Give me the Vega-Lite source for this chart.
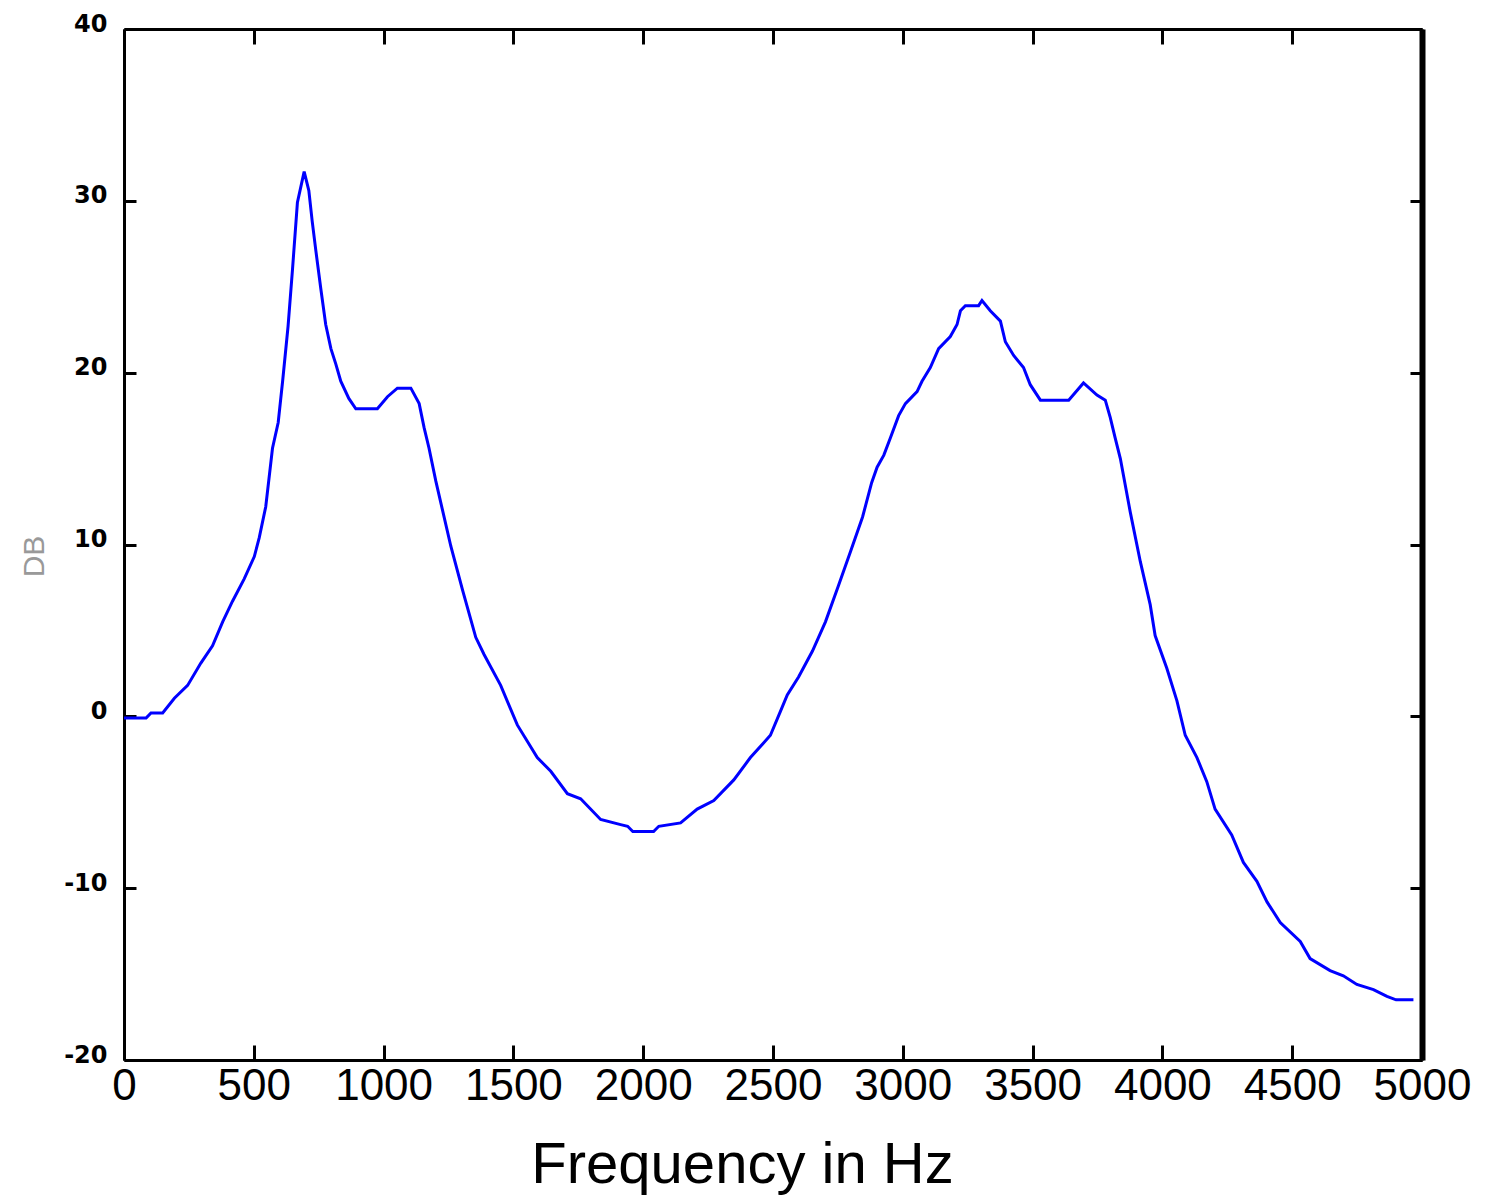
{
  "$schema": "https://vega.github.io/schema/vega-lite/v6.json",
  "autosize": {"type": "none"},
  "padding": {"left": 124, "top": 29, "right": 64, "bottom": 143},
  "width": 1298,
  "height": 1031,
  "background": "white",
  "config": {"view": {"stroke": null}},
  "data": {"values": [
    {"f": 0, "db": -0.1}, {"f": 85, "db": -0.1}, {"f": 104, "db": 0.2}, {"f": 149, "db": 0.2},
    {"f": 194, "db": 1.05}, {"f": 245, "db": 1.8}, {"f": 296, "db": 3.1}, {"f": 341, "db": 4.1},
    {"f": 380, "db": 5.5}, {"f": 418, "db": 6.7}, {"f": 463, "db": 8.0}, {"f": 502, "db": 9.3},
    {"f": 521, "db": 10.4}, {"f": 546, "db": 12.2}, {"f": 572, "db": 15.6}, {"f": 594, "db": 17.1},
    {"f": 611, "db": 19.5}, {"f": 632, "db": 22.7}, {"f": 649, "db": 26.0}, {"f": 668, "db": 29.9},
    {"f": 694, "db": 31.7}, {"f": 712, "db": 30.6}, {"f": 725, "db": 28.8},
    {"f": 739, "db": 27.1}, {"f": 758, "db": 24.9}, {"f": 777, "db": 22.8}, {"f": 797, "db": 21.4},
    {"f": 816, "db": 20.5}, {"f": 835, "db": 19.5}, {"f": 866, "db": 18.5}, {"f": 893, "db": 17.9},
    {"f": 976, "db": 17.9}, {"f": 1015, "db": 18.6}, {"f": 1053, "db": 19.1}, {"f": 1105, "db": 19.1},
    {"f": 1137, "db": 18.2}, {"f": 1156, "db": 16.8}, {"f": 1175, "db": 15.6}, {"f": 1201, "db": 13.7},
    {"f": 1259, "db": 9.9}, {"f": 1305, "db": 7.3}, {"f": 1355, "db": 4.6}, {"f": 1387, "db": 3.6},
    {"f": 1451, "db": 1.8}, {"f": 1515, "db": -0.5}, {"f": 1592, "db": -2.4}, {"f": 1644, "db": -3.2},
    {"f": 1708, "db": -4.5}, {"f": 1759, "db": -4.8}, {"f": 1836, "db": -6.0}, {"f": 1913, "db": -6.3},
    {"f": 1940, "db": -6.4}, {"f": 1960, "db": -6.7}, {"f": 2040, "db": -6.7}, {"f": 2060, "db": -6.4},
    {"f": 2144, "db": -6.2}, {"f": 2208, "db": -5.4}, {"f": 2272, "db": -4.9}, {"f": 2349, "db": -3.7},
    {"f": 2413, "db": -2.4}, {"f": 2490, "db": -1.1}, {"f": 2529, "db": 0.3}, {"f": 2555, "db": 1.25},
    {"f": 2599, "db": 2.3}, {"f": 2652, "db": 3.8}, {"f": 2702, "db": 5.5}, {"f": 2752, "db": 7.6},
    {"f": 2799, "db": 9.6}, {"f": 2845, "db": 11.6}, {"f": 2880, "db": 13.6}, {"f": 2901, "db": 14.5},
    {"f": 2927, "db": 15.2}, {"f": 2952, "db": 16.2}, {"f": 2984, "db": 17.5}, {"f": 3010, "db": 18.2},
    {"f": 3055, "db": 18.9}, {"f": 3074, "db": 19.5}, {"f": 3106, "db": 20.3}, {"f": 3138, "db": 21.4},
    {"f": 3183, "db": 22.1}, {"f": 3209, "db": 22.8}, {"f": 3222, "db": 23.6}, {"f": 3241, "db": 23.9},
    {"f": 3292, "db": 23.9}, {"f": 3305, "db": 24.2}, {"f": 3337, "db": 23.6}, {"f": 3376, "db": 23.0},
    {"f": 3395, "db": 21.8}, {"f": 3427, "db": 21.0}, {"f": 3465, "db": 20.3}, {"f": 3491, "db": 19.3},
    {"f": 3530, "db": 18.4}, {"f": 3639, "db": 18.4}, {"f": 3696, "db": 19.4}, {"f": 3748, "db": 18.7},
    {"f": 3780, "db": 18.4}, {"f": 3799, "db": 17.4}, {"f": 3818, "db": 16.2}, {"f": 3838, "db": 15.0},
    {"f": 3876, "db": 11.9}, {"f": 3915, "db": 9.0}, {"f": 3953, "db": 6.5}, {"f": 3972, "db": 4.7},
    {"f": 4017, "db": 2.8}, {"f": 4056, "db": 0.9}, {"f": 4088, "db": -1.1}, {"f": 4133, "db": -2.4},
    {"f": 4171, "db": -3.8}, {"f": 4203, "db": -5.4}, {"f": 4267, "db": -6.9}, {"f": 4312, "db": -8.5},
    {"f": 4364, "db": -9.6}, {"f": 4403, "db": -10.8}, {"f": 4454, "db": -12.0}, {"f": 4531, "db": -13.1},
    {"f": 4569, "db": -14.1}, {"f": 4646, "db": -14.8}, {"f": 4697, "db": -15.1}, {"f": 4749, "db": -15.6},
    {"f": 4813, "db": -15.9}, {"f": 4865, "db": -16.3}, {"f": 4900, "db": -16.5}, {"f": 4967, "db": -16.5}
  ]},
  "resolve": {"axis": {"x": "independent", "y": "independent"}},
  "layer": [
    {
      "mark": {"type": "line", "color": "#0000FF", "strokeWidth": 3, "clip": true},
      "encoding": {
        "x": {
          "field": "f", "type": "quantitative",
          "scale": {"domain": [0, 5000], "nice": false, "zero": false},
          "axis": {
            "orient": "bottom", "values": [0, 500, 1000, 1500, 2000, 2500, 3000, 3500, 4000, 4500, 5000],
            "labelExpr": "'' + datum.value",
            "grid": false, "domainColor": "black", "domainWidth": 3, "tickColor": "black", "tickWidth": 3,
            "tickSize": -15, "labelPadding": 19, "labelFont": "Liberation Sans", "labelFontSize": 44,
            "labelColor": "black", "labelFlush": false, "labelBaseline": "top", "labelOverlap": false,
            "title": "Frequency in Hz", "titleFont": "Liberation Sans", "titleFontSize": 58,
            "titleFontWeight": "normal", "titleColor": "black", "titleX": 618, "titleY": 122,
            "titleBaseline": "alphabetic", "titleAlign": "center", "titleAnchor": null
          }
        },
        "y": {
          "field": "db", "type": "quantitative",
          "scale": {"domain": [-20, 40], "nice": false, "zero": false},
          "axis": {
            "orient": "left", "values": [-20, -10, 0, 10, 20, 30, 40],
            "labelExpr": "'' + datum.value",
            "grid": false, "domainColor": "black", "domainWidth": 3, "tickColor": "black", "tickWidth": 3,
            "tickSize": -12, "labelPadding": 29, "labelFont": "DejaVu Sans", "labelFontWeight": "bold",
            "labelFontSize": 24, "labelColor": "black", "labelFlush": false, "labelOffset": -5,
            "labelOverlap": false,
            "title": "DB", "titleFont": "Liberation Sans", "titleFontSize": 30, "titleFontWeight": "normal",
            "titleColor": "#999999", "titleAngle": 270, "titleX": -90, "titleY": 527,
            "titleBaseline": "middle", "titleAlign": "center", "titleAnchor": null
          }
        }
      }
    },
    {
      "mark": {"type": "line", "opacity": 0},
      "encoding": {
        "x": {
          "field": "f", "type": "quantitative",
          "axis": {
            "orient": "top", "values": [0, 500, 1000, 1500, 2000, 2500, 3000, 3500, 4000, 4500, 5000],
            "grid": false, "domainColor": "black", "domainWidth": 3, "tickColor": "black", "tickWidth": 3,
            "tickSize": -15, "labels": false, "title": null
          }
        },
        "y": {
          "field": "db", "type": "quantitative",
          "axis": {
            "orient": "right", "values": [-20, -10, 0, 10, 20, 30, 40],
            "grid": false, "domainColor": "black", "domainWidth": 6, "tickColor": "black", "tickWidth": 3,
            "tickSize": -12, "labels": false, "title": null
          }
        }
      }
    }
  ]
}
